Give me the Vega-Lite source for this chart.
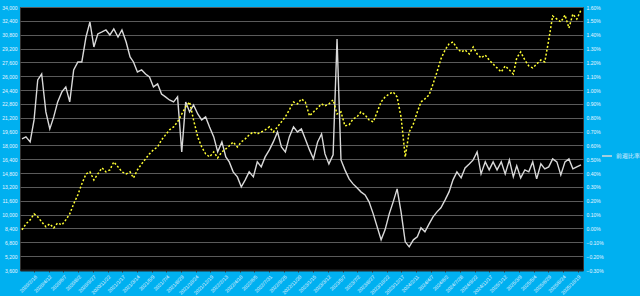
{
  "$schema": "https://vega.github.io/schema/vega-lite/v6.json",
  "width": 563,
  "height": 263,
  "padding": {"left": 1, "top": 5, "right": 0, "bottom": 0},
  "background": "#00B0F0",
  "config": {
    "view": {"fill": "#000000", "stroke": "#333333"},
    "font": "Liberation Sans",
    "axis": {"labelColor": "#e8f4ff", "labelFontSize": 5, "domain": false, "ticks": false, "labelPadding": 3}
  },
  "data": {
    "values": [
      {"d":"2020-01-01","a":18754,"b":-0.010},{"d":"2020-01-16","a":18985,"b":0.033},{"d":"2020-02-01","a":18407,"b":0.062},{"d":"2020-02-16","a":20948,"b":0.105},
      {"d":"2020-03-01","a":25568,"b":0.084},{"d":"2020-03-16","a":26261,"b":0.048},{"d":"2020-04-01","a":21872,"b":0.012},{"d":"2020-04-16","a":19909,"b":0.033},
      {"d":"2020-05-01","a":21295,"b":0.004},{"d":"2020-05-16","a":23027,"b":0.040},{"d":"2020-06-01","a":24182,"b":0.026},{"d":"2020-06-16","a":24760,"b":0.062},
      {"d":"2020-07-01","a":23027,"b":0.105},{"d":"2020-07-16","a":26723,"b":0.178},{"d":"2020-08-01","a":27647,"b":0.243},{"d":"2020-08-16","a":27647,"b":0.322},
      {"d":"2020-09-01","a":30535,"b":0.394},{"d":"2020-09-16","a":32267,"b":0.409},{"d":"2020-10-01","a":29380,"b":0.351},{"d":"2020-10-16","a":30881,"b":0.394},
      {"d":"2020-11-01","a":31112,"b":0.438},{"d":"2020-11-16","a":31343,"b":0.409},{"d":"2020-12-01","a":30766,"b":0.423},{"d":"2020-12-16","a":31459,"b":0.481},
      {"d":"2021-01-01","a":30535,"b":0.445},{"d":"2021-01-16","a":31343,"b":0.409},{"d":"2021-02-01","a":29957,"b":0.394},{"d":"2021-02-16","a":28225,"b":0.409},
      {"d":"2021-03-01","a":27647,"b":0.365},{"d":"2021-03-16","a":26492,"b":0.423},{"d":"2021-04-01","a":26723,"b":0.466},{"d":"2021-04-16","a":26261,"b":0.503},
      {"d":"2021-05-01","a":25915,"b":0.539},{"d":"2021-05-16","a":24760,"b":0.568},{"d":"2021-06-01","a":25106,"b":0.589},{"d":"2021-06-16","a":23951,"b":0.640},
      {"d":"2021-07-01","a":23605,"b":0.676},{"d":"2021-07-16","a":23258,"b":0.712},{"d":"2021-08-01","a":23027,"b":0.734},{"d":"2021-08-16","a":23605,"b":0.770},
      {"d":"2021-09-01","a":17252,"b":0.827},{"d":"2021-09-16","a":23027,"b":0.878},{"d":"2021-10-01","a":21872,"b":0.914},{"d":"2021-10-16","a":22681,"b":0.784},
      {"d":"2021-11-01","a":21641,"b":0.661},{"d":"2021-11-16","a":20948,"b":0.589},{"d":"2021-12-01","a":21295,"b":0.539},{"d":"2021-12-16","a":20140,"b":0.517},
      {"d":"2022-01-01","a":18985,"b":0.553},{"d":"2022-01-16","a":17252,"b":0.510},{"d":"2022-02-01","a":18407,"b":0.553},{"d":"2022-02-16","a":16675,"b":0.575},
      {"d":"2022-03-01","a":16097,"b":0.596},{"d":"2022-03-16","a":14942,"b":0.625},{"d":"2022-04-01","a":14365,"b":0.589},{"d":"2022-04-16","a":13210,"b":0.625},
      {"d":"2022-05-01","a":14018,"b":0.647},{"d":"2022-05-16","a":14942,"b":0.676},{"d":"2022-06-01","a":14365,"b":0.697},{"d":"2022-06-16","a":16097,"b":0.683},
      {"d":"2022-07-01","a":15520,"b":0.697},{"d":"2022-07-16","a":16675,"b":0.712},{"d":"2022-08-01","a":17483,"b":0.734},{"d":"2022-08-16","a":18407,"b":0.697},
      {"d":"2022-09-01","a":19562,"b":0.734},{"d":"2022-09-16","a":17830,"b":0.770},{"d":"2022-10-01","a":17252,"b":0.806},{"d":"2022-10-16","a":18985,"b":0.856},
      {"d":"2022-11-01","a":20140,"b":0.914},{"d":"2022-11-16","a":19562,"b":0.900},{"d":"2022-12-01","a":19909,"b":0.936},{"d":"2022-12-16","a":18754,"b":0.914},
      {"d":"2023-01-01","a":17483,"b":0.813},{"d":"2023-01-16","a":16444,"b":0.842},{"d":"2023-02-01","a":18407,"b":0.871},{"d":"2023-02-16","a":19331,"b":0.900},
      {"d":"2023-03-01","a":17021,"b":0.885},{"d":"2023-03-16","a":15866,"b":0.900},{"d":"2023-04-01","a":16906,"b":0.929},{"d":"2023-04-16","a":30304,"b":0.827},
      {"d":"2023-05-01","a":16328,"b":0.842},{"d":"2023-05-16","a":15173,"b":0.741},{"d":"2023-06-01","a":14134,"b":0.748},{"d":"2023-06-16","a":13556,"b":0.791},
      {"d":"2023-07-01","a":13094,"b":0.806},{"d":"2023-07-16","a":12632,"b":0.842},{"d":"2023-08-01","a":12286,"b":0.820},{"d":"2023-08-16","a":11477,"b":0.784},
      {"d":"2023-09-01","a":10091,"b":0.770},{"d":"2023-09-16","a":8590,"b":0.842},{"d":"2023-10-01","a":7088,"b":0.914},{"d":"2023-10-16","a":8243,"b":0.950},
      {"d":"2023-11-01","a":10091,"b":0.972},{"d":"2023-11-16","a":11477,"b":0.986},{"d":"2023-12-01","a":12979,"b":0.950},{"d":"2023-12-16","a":10322,"b":0.806},
      {"d":"2024-01-01","a":6857,"b":0.517},{"d":"2024-01-16","a":6280,"b":0.697},{"d":"2024-02-01","a":7088,"b":0.755},{"d":"2024-02-16","a":7435,"b":0.842},
      {"d":"2024-03-01","a":8474,"b":0.914},{"d":"2024-03-16","a":8012,"b":0.936},{"d":"2024-04-01","a":8936,"b":0.965},{"d":"2024-04-16","a":9745,"b":1.044},
      {"d":"2024-05-01","a":10322,"b":1.131},{"d":"2024-05-16","a":10784,"b":1.225},{"d":"2024-06-01","a":11708,"b":1.290},{"d":"2024-06-16","a":12632,"b":1.333},
      {"d":"2024-07-01","a":14018,"b":1.347},{"d":"2024-07-16","a":14942,"b":1.304},{"d":"2024-08-01","a":14249,"b":1.275},{"d":"2024-08-16","a":15404,"b":1.290},
      {"d":"2024-09-01","a":15866,"b":1.261},{"d":"2024-09-16","a":16328,"b":1.311},{"d":"2024-10-01","a":17252,"b":1.261},{"d":"2024-10-16","a":14711,"b":1.232},
      {"d":"2024-11-01","a":16097,"b":1.253},{"d":"2024-11-16","a":15173,"b":1.217},{"d":"2024-12-01","a":16097,"b":1.188},{"d":"2024-12-16","a":15173,"b":1.160},
      {"d":"2025-01-01","a":16097,"b":1.131},{"d":"2025-01-16","a":14711,"b":1.174},{"d":"2025-02-01","a":16328,"b":1.145},{"d":"2025-02-16","a":14365,"b":1.116},
      {"d":"2025-03-01","a":15635,"b":1.232},{"d":"2025-03-16","a":14249,"b":1.275},{"d":"2025-04-01","a":15173,"b":1.217},{"d":"2025-04-16","a":14942,"b":1.174},
      {"d":"2025-05-01","a":16097,"b":1.160},{"d":"2025-05-16","a":14134,"b":1.188},{"d":"2025-06-01","a":15866,"b":1.217},{"d":"2025-06-16","a":15289,"b":1.203},
      {"d":"2025-07-01","a":15520,"b":1.362},{"d":"2025-07-16","a":16444,"b":1.535},{"d":"2025-08-01","a":16097,"b":1.513},{"d":"2025-08-16","a":14596,"b":1.492},
      {"d":"2025-09-01","a":16097,"b":1.542},{"d":"2025-09-16","a":16444,"b":1.448},{"d":"2025-10-01","a":15289,"b":1.549},{"d":"2025-10-16","a":15520,"b":1.513},
      {"d":"2025-11-01","a":15751,"b":1.578}
    ]
  },
  "encoding": {
    "x": {
      "field": "d", "type": "temporal", "title": null,
      "scale": {"nice": false, "padding": 2},
      "axis": {
        "format": "%Y/%-m/%-d", "labelAngle": -45, "labelFontSize": 5, "labelOverlap": false,
        "tickCount": {"interval": "week", "step": 8}, "grid": false,
        "domain": true, "domainColor": "#222222", "domainWidth": 2,
        "ticks": true, "tickColor": "#444444", "tickSize": 2, "labelPadding": 2
      }
    }
  },
  "layer": [
    {
      "mark": {"type": "line", "strokeWidth": 1.4},
      "encoding": {
        "y": {
          "field": "a", "type": "quantitative", "title": null,
          "scale": {"domain": [3600, 34000], "nice": false, "zero": false},
          "axis": {
            "orient": "left", "format": ",.0f",
            "values": [3600,5200,6800,8400,10000,11600,13200,14800,16400,18000,19600,21200,22800,24400,26000,27600,29200,30800,32400,34000],
            "grid": true, "gridColor": "#5a5a5a", "gridWidth": 1.2
          }
        },
        "color": {
          "datum": "前週比率",
          "scale": {"range": ["#d9d9d9"]},
          "legend": {
            "title": null, "orient": "none", "legendX": 581, "legendY": 143, "symbolType": "stroke", "symbolStrokeWidth": 1.5,
            "symbolSize": 100, "labelColor": "#e8f4ff", "labelFontSize": 5.5, "labelOffset": 3, "padding": 0
          }
        }
      }
    },
    {
      "mark": {"type": "line", "color": "#ffff33", "strokeWidth": 1.5, "strokeDash": [2, 2]},
      "encoding": {
        "y": {
          "field": "b", "type": "quantitative", "title": null,
          "scale": {"domain": [-0.3, 1.6], "nice": false, "zero": false},
          "axis": {
            "orient": "right",
            "labelExpr": "format(datum.value, '.2f') + '%'",
            "values": [-0.3,-0.2,-0.1,0,0.1,0.2,0.3,0.4,0.5,0.6,0.7,0.8,0.9,1.0,1.1,1.2,1.3,1.4,1.5,1.6],
            "grid": false
          }
        }
      }
    }
  ],
  "resolve": {"scale": {"y": "independent"}}
}
